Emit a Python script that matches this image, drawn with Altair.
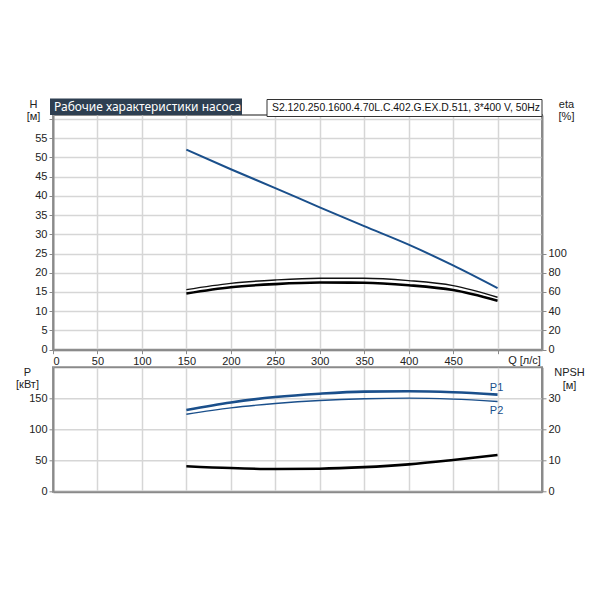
import altair as alt
import pandas as pd

# ---- data ----
q = [150, 200, 250, 300, 350, 400, 450, 500]
head = [52.0, 46.9, 42.0, 37.0, 32.1, 27.3, 21.9, 16.0]
eta_pump = [62.5, 69.0, 72.5, 74.3, 74.3, 71.8, 66.6, 54.5]
eta_total = [58.5, 65.0, 68.2, 69.8, 69.6, 67.0, 62.0, 51.0]
p1 = [131.5, 143.5, 152.2, 157.6, 160.9, 161.4, 159.8, 156.0]
p2 = [124.5, 134.8, 141.8, 146.7, 149.5, 150.5, 148.9, 145.1]
npsh = [8.2, 7.6, 7.3, 7.4, 7.9, 8.8, 10.2, 11.8]

x_ticks = [0, 50, 100, 150, 200, 250, 300, 350, 400, 450, 500]
h_ticks = [0, 5, 10, 15, 20, 25, 30, 35, 40, 45, 50, 55, 60]
eta_ticks = [0, 20, 40, 60, 80, 100]
p_ticks = [0, 50, 100, 150]
npsh_ticks = [0, 10, 20, 30]

curve_labels = ["P1", "P2"]
curve_label_q = [500, 500]
curve_label_p = [166, 130]

title_text = "Рабочие характеристики насоса"
model_text = "S2.120.250.1600.4.70L.C.402.G.EX.D.511, 3*400 V, 50Hz"

BLUE = "#1a4f8b"
GRID = "#d6d6d6"
AXIS = "#8a8a8a"
FONT = "Liberation Sans"

W = 489
H_TOP = 234.7
H_BOT = 124.4

df_top = pd.DataFrame({"q": q, "H": head, "eta1": eta_pump, "eta2": eta_total})
df_bot = pd.DataFrame({"q": q, "p1": p1, "p2": p2, "npsh": npsh})
df_lab = pd.DataFrame({"q": curve_label_q, "p": curve_label_p, "t": curve_labels})
one = pd.DataFrame({"a": [0]})

x_scale = alt.Scale(domain=[0, 550], nice=False, zero=True)

x_top = alt.X(
    "q:Q", scale=x_scale,
    axis=alt.Axis(values=x_ticks, grid=True,
                  labelExpr="datum.value == 500 ? '' : datum.label",
                  title="Q [л/с]", titleX=471, titleY=11, titleAlign="center",
                  titleBaseline="middle", titleAngle=0))
x_bot = alt.X("q:Q", scale=x_scale,
              axis=alt.Axis(values=x_ticks, grid=True, labels=False, ticks=False, title=None))

h_axis = alt.Axis(values=h_ticks, grid=True,
                  labelExpr="datum.value == 60 ? '' : datum.label",
                  title=["H", "[м]"], titleAngle=0, titleX=-20, titleY=-17,
                  titleAlign="center", titleBaseline="top", titleLineHeight=12)
eta_axis = alt.Axis(values=eta_ticks, grid=False, orient="right",
                    title=["eta", "[%]"], titleAngle=0, titleX=24, titleY=-17,
                    titleAlign="center", titleBaseline="top", titleLineHeight=12)
p_axis = alt.Axis(values=p_ticks, grid=True,
                  title=["P", "[кВт]"], titleAngle=0, titleX=-26, titleY=-1,
                  titleAlign="center", titleBaseline="top", titleLineHeight=12)
npsh_axis = alt.Axis(values=npsh_ticks, grid=False, orient="right",
                     title=["NPSH", "[м]"], titleAngle=0, titleX=27, titleY=-1,
                     titleAlign="center", titleBaseline="top", titleLineHeight=13)

h_scale = alt.Scale(domain=[0, 61], nice=False)
eta_scale = alt.Scale(domain=[0, 244], nice=False)
p_scale = alt.Scale(domain=[0, 200], nice=False)
npsh_scale = alt.Scale(domain=[0, 40], nice=False)

h_line = alt.Chart(df_top).mark_line(color=BLUE, strokeWidth=2, interpolate="monotone").encode(
    x=x_top, y=alt.Y("H:Q", scale=h_scale, axis=h_axis))

eta1_line = alt.Chart(df_top).mark_line(color="#111", strokeWidth=1.4, interpolate="monotone").encode(
    x=x_top, y=alt.Y("eta1:Q", scale=eta_scale, axis=eta_axis))
eta2_line = alt.Chart(df_top).mark_line(color="#000", strokeWidth=2.6, interpolate="monotone").encode(
    x=x_top, y=alt.Y("eta2:Q", scale=eta_scale, axis=eta_axis))
eta_layer = alt.layer(eta1_line, eta2_line)

title_box = alt.Chart(one).mark_rect(color="#2e3f51").encode(
    x=alt.value(-3), x2=alt.value(189), y=alt.value(-16.5), y2=alt.value(0))
title_txt = alt.Chart(one).mark_text(
    text=title_text, color="white", font="Noto Sans", fontSize=12,
    align="left", baseline="middle").encode(x=alt.value(1), y=alt.value(-8.5))
model_box = alt.Chart(one).mark_rect(fill="white", stroke="#333", strokeWidth=1).encode(
    x=alt.value(214), x2=alt.value(489), y=alt.value(-15.5), y2=alt.value(1.5))
model_txt = alt.Chart(one).mark_text(
    text=model_text, color="#111", font=FONT, fontSize=10.4,
    align="left", baseline="middle").encode(x=alt.value(219), y=alt.value(-7))

top = alt.layer(h_line, eta_layer, title_box, title_txt, model_box, model_txt).resolve_scale(
    y="independent").properties(width=W, height=H_TOP)

p1_line = alt.Chart(df_bot).mark_line(color=BLUE, strokeWidth=2.6, interpolate="monotone").encode(
    x=x_bot, y=alt.Y("p1:Q", scale=p_scale, axis=p_axis))
p2_line = alt.Chart(df_bot).mark_line(color=BLUE, strokeWidth=1.4, interpolate="monotone").encode(
    x=x_bot, y=alt.Y("p2:Q", scale=p_scale, axis=p_axis))
p_text = alt.Chart(df_lab).mark_text(color=BLUE, font=FONT, fontSize=11, align="center",
                                     baseline="middle", dx=-1).encode(
    x=x_bot, y=alt.Y("p:Q", scale=p_scale, axis=p_axis), text="t:N")
p_layer = alt.layer(p1_line, p2_line, p_text)

npsh_line = alt.Chart(df_bot).mark_line(color="#000", strokeWidth=2.6, interpolate="monotone").encode(
    x=x_bot, y=alt.Y("npsh:Q", scale=npsh_scale, axis=npsh_axis))

bottom = alt.layer(p_layer, npsh_line).resolve_scale(y="independent").properties(
    width=W, height=H_BOT)

chart = alt.vconcat(top, bottom, spacing=17.3, bounds="flush").properties(
    padding={"left": 6, "top": 89, "right": 5, "bottom": 5},
    background="white",
).configure_view(
    stroke=AXIS, strokeWidth=2
).configure_axis(
    labelFont=FONT, labelFontSize=11, labelColor="#222",
    titleFont=FONT, titleFontSize=11, titleColor="#222", titleFontWeight="normal",
    domainColor=AXIS, domainWidth=2, tickColor=AXIS, tickSize=4, labelPadding=2,
    gridColor=GRID, gridWidth=1.5,
)

chart.save("out.html", embed_options={"renderer": "svg", "actions": False})
